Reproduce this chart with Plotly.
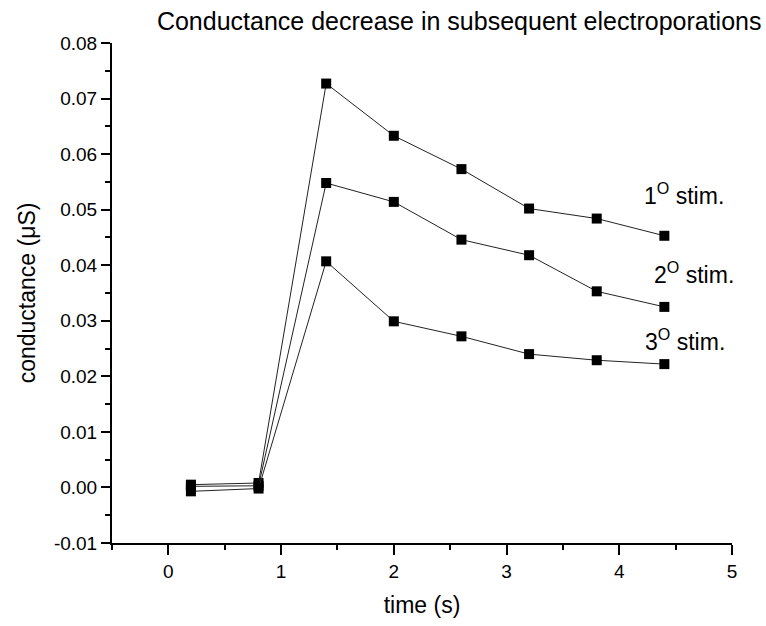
import plotly.graph_objects as go

time_s = [0.2, 0.8, 1.4, 2.0, 2.6, 3.2, 3.8, 4.4]
stim1 = [0.0005, 0.0008, 0.0727, 0.0633, 0.0573, 0.0502, 0.0484, 0.0453]
stim2 = [0.0002, 0.0003, 0.0548, 0.0514, 0.0446, 0.0418, 0.0353, 0.0325]
stim3 = [-0.0007, -0.0002, 0.0407, 0.0299, 0.0272, 0.0240, 0.0229, 0.0222]
series = [("1<sup>O</sup> stim.", stim1), ("2<sup>O</sup> stim.", stim2), ("3<sup>O</sup> stim.", stim3)]
label_pos = [(4.57, 0.0529), (4.66, 0.0386), (4.58, 0.0266)]
y_ticks = [-0.01, 0.0, 0.01, 0.02, 0.03, 0.04, 0.05, 0.06, 0.07, 0.08]
y_tick_text = ["-0.01", "0.00", "0.01", "0.02", "0.03", "0.04", "0.05", "0.06", "0.07", "0.08"]
x_ticks = [0, 1, 2, 3, 4, 5]

FONT = "Arial, 'Liberation Sans', sans-serif"

fig = go.Figure()
for name, ys in series:
    fig.add_trace(go.Scatter(
        x=time_s, y=ys, mode="lines+markers", name=name,
        line=dict(color="#222222", width=1),
        marker=dict(symbol="square", size=10, color="black"),
        showlegend=False,
    ))

for (name, _), (lx, ly) in zip(series, label_pos):
    fig.add_annotation(x=lx, y=ly, text=name, showarrow=False,
                       font=dict(family=FONT, size=23, color="black"),
                       xanchor="center", yanchor="middle")

fig.update_layout(
    width=766, height=626,
    margin=dict(l=112, r=34, t=43, b=79),
    plot_bgcolor="white", paper_bgcolor="white",
    font=dict(family=FONT, color="black"),
    title=dict(text="Conductance decrease in subsequent electroporations",
               x=0.56, xref="paper", xanchor="center",
               y=1 - 21 / 626, yref="container", yanchor="middle",
               font=dict(family=FONT, size=25, color="black")),
)
fig.update_xaxes(
    range=[-0.5, 5], tickvals=x_ticks, showgrid=False, zeroline=False,
    showline=True, linecolor="black", linewidth=2,
    ticks="outside", ticklen=10, tickwidth=2, tickcolor="black",
    minor=dict(dtick=0.5, tick0=0, ticks="outside", ticklen=5, tickwidth=2, tickcolor="black"),
    tickfont=dict(family=FONT, size=19, color="black"),
    title=dict(text="time (s)", font=dict(family=FONT, size=23, color="black"), standoff=16),
)
fig.update_yaxes(
    range=[-0.01, 0.08], tickvals=y_ticks, ticktext=y_tick_text,
    showgrid=False, zeroline=False,
    showline=True, linecolor="black", linewidth=2,
    ticks="outside", ticklen=9, tickwidth=2, tickcolor="black",
    minor=dict(dtick=0.005, tick0=0, ticks="outside", ticklen=5, tickwidth=2, tickcolor="black"),
    tickfont=dict(family=FONT, size=19, color="black"),
    title=dict(text="conductance (μS)", font=dict(family=FONT, size=23, color="black"), standoff=12),
)

fig.write_html("out.html")
